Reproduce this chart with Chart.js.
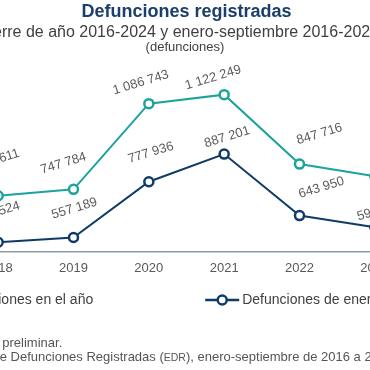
<!DOCTYPE html>
<html>
<head>
<meta charset="utf-8">
<script src="https://cdn.jsdelivr.net/npm/chart.js@4"></script>
<style>
html, body { margin: 0; padding: 0; background: #fff; overflow: hidden; }
#frame { position: relative; width: 370px; height: 370px; overflow: hidden; }
#wrap { position: absolute; left: -185px; top: 0; width: 740px; height: 370px; }
</style>
</head>
<body>
<div id="frame"><div id="wrap"><canvas id="deaths-chart" width="740" height="370"></canvas></div></div>
<script>
// cierre de año 2016-2024, enero-septiembre 2016-2025
const years = ['2016', '2017', '2018', '2019', '2020', '2021', '2022', '2023', '2024', '2025'];
const totalYear = [685766, 703047, 722611, 747784, 1086743, 1122249, 847716, 799869, 818437, null];
const janSep = [509212, 523170, 538524, 557189, 777936, 887201, 643950, 597841, 612335, 603920];

const FONT = '"Liberation Sans", Arial, sans-serif';
const TEAL = '#1CA39E';
const NAVY = '#0F3B66';

const fmt = v => String(v).replace(/\B(?=(\d{3})+(?!\d))/g, ' ');

// rotated value labels, nudged a bit like the original
const pointLabels = {
    id: 'pointLabels',
    afterDatasetsDraw(chart, args, opts) {
        const ctx = chart.ctx;
        ctx.save();
        ctx.font = '13px ' + FONT;
        ctx.fillStyle = '#5A5A5A';
        ctx.textAlign = 'center';
        ctx.textBaseline = 'middle';
        chart.data.datasets.forEach((ds, i) => {
            const meta = chart.getDatasetMeta(i);
            const nudge = opts.nudges[i];
            meta.data.forEach((pt, j) => {
                if (ds.data[j] == null) return;
                ctx.save();
                ctx.translate(pt.x + nudge[j][0], pt.y + nudge[j][1]);
                ctx.rotate(opts.angle * Math.PI / 180);
                ctx.fillText(fmt(ds.data[j]), 0, 0);
                ctx.restore();
            });
        });
        ctx.restore();
    }
};

// unit line, legend and footnotes
const extras = {
    id: 'extras',
    afterDraw(chart) {
        const ctx = chart.ctx;
        const mid = chart.width / 2;
        ctx.save();
        ctx.fillStyle = '#404040';
        ctx.textAlign = 'center';
        ctx.textBaseline = 'middle';
        ctx.font = '13px ' + FONT;
        ctx.fillText('(defunciones)', mid, 47);

        // legend
        ctx.font = '14px ' + FONT;
        const items = chart.data.datasets.map(ds => ({
            text: ds.label, color: ds.borderColor, w: 37 + ctx.measureText(ds.label).width
        }));
        const gap = 112;
        let x = mid - (items[0].w + gap + items[1].w) / 2;
        const ly = 300;
        items.forEach(it => {
            ctx.strokeStyle = it.color;
            ctx.lineWidth = 2.5;
            ctx.beginPath();
            ctx.moveTo(x, ly);
            ctx.lineTo(x + 34, ly);
            ctx.stroke();
            ctx.beginPath();
            ctx.arc(x + 17, ly, 4.5, 0, Math.PI * 2);
            ctx.fillStyle = '#fff';
            ctx.fill();
            ctx.stroke();
            ctx.fillStyle = '#404040';
            ctx.textAlign = 'left';
            ctx.fillText(it.text, x + 37, ly);
            x += it.w + gap;
        });

        // footnotes
        const fx = 20;
        ctx.fillStyle = '#555555';
        ctx.textBaseline = 'alphabetic';
        ctx.font = '13px ' + FONT;
        ctx.fillText('p/ La información de 2025 es preliminar.', fx - 4, 346.5);
        const parts = [
            ['Fuente: INEGI. Estadística de Defunciones Registradas (', 13],
            ['EDR', 10.5],
            ['), enero-septiembre de 2016 a 2025.', 13]
        ];
        let px = fx;
        parts.forEach(([t, s]) => {
            ctx.font = s + 'px ' + FONT;
            ctx.fillText(t, px, 361);
            px += ctx.measureText(t).width;
        });
        ctx.restore();
    }
};

const ctx = document.getElementById('deaths-chart').getContext('2d');

new Chart(ctx, {
    type: 'line',
    data: {
        labels: years,
        datasets: [{
            label: 'Defunciones en el año',
            data: totalYear,
            borderColor: TEAL,
            pointBorderColor: TEAL,
            pointBackgroundColor: '#fff',
            pointRadius: 4.5,
            pointBorderWidth: 2.5,
            borderWidth: 2,
            clip: false
        }, {
            label: 'Defunciones de enero-septiembre',
            data: janSep,
            borderColor: NAVY,
            pointBorderColor: NAVY,
            pointBackgroundColor: '#fff',
            pointRadius: 4.5,
            pointBorderWidth: 2.5,
            borderWidth: 2,
            clip: false
        }]
    },
    options: {
        responsive: false,
        animation: false,
        devicePixelRatio: 1,
        layout: { padding: { left: 32.5, right: 29.5, top: 0, bottom: 84.4 } },
        scales: {
            x: {
                grid: { display: false, drawTicks: false },
                border: { display: true, color: '#8D9AA8', width: 1.5 },
                ticks: { padding: 9, color: '#595959', font: { size: 13, family: FONT } }
            },
            y: { display: false, min: 500000, max: 1200000 }
        },
        plugins: {
            legend: { display: false },
            tooltip: { enabled: false },
            title: {
                display: true,
                text: 'Defunciones registradas',
                color: '#1B3E6A',
                font: { size: 18, weight: 'bold', family: FONT, lineHeight: 1.2 },
                padding: { top: 1, bottom: 0 }
            },
            subtitle: {
                display: true,
                // trailing en spaces stand in for the original's footnote mark
                text: 'Cierre de año 2016-2024 y enero-septiembre 2016-2025\u2002\u2002',
                color: '#404040',
                font: { size: 16, family: FONT, lineHeight: 1.2 },
                padding: { top: 0, bottom: 33.2 }
            },
            pointLabels: {
                angle: -17,
                nudges: [
                    [[0, -26], [0, -26], [-1, -36], [-10, -26], [-8, -21], [-11, -17], [20, -30], [20, -30], [0, -26], [0, 0]],
                    [[0, -28], [0, -28], [-1, -30], [1, -29], [2, -29], [3, -17], [22, -28], [5, -17], [0, -28], [0, -28]]
                ]
            }
        }
    },
    plugins: [pointLabels, extras]
});
</script>
</body>
</html>
